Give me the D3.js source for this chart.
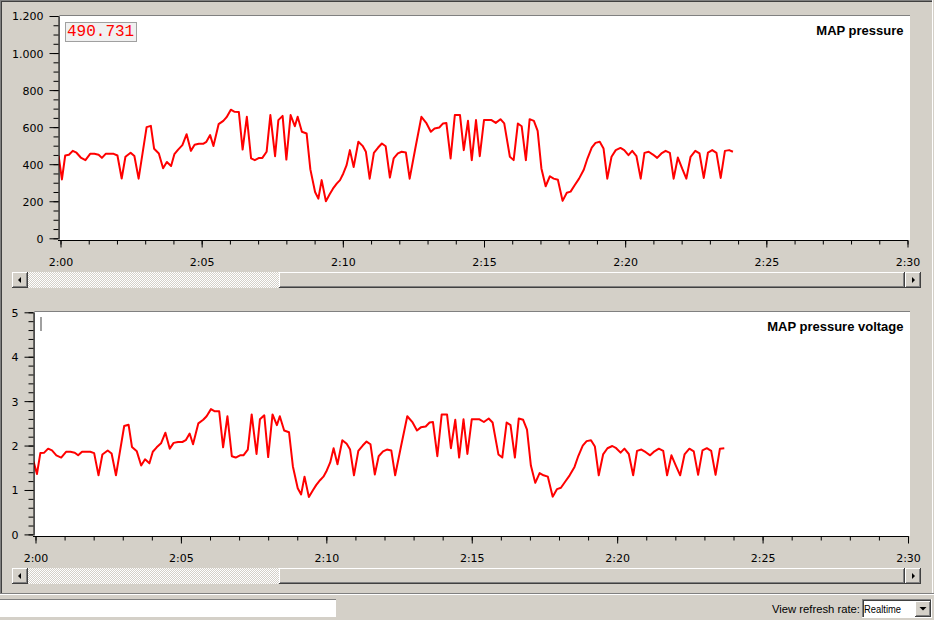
<!DOCTYPE html>
<html><head><meta charset="utf-8">
<script src="https://cdn.jsdelivr.net/npm/d3@7"></script>
<style>html,body{margin:0;padding:0;background:#d4d0c8;overflow:hidden}svg{display:block}</style>
</head><body>
<svg id="c" width="934" height="620"></svg>
<script>
// ---- data (seconds after 2:00) ----
const sampleSec = [-4,3,10,18,26,34,43,53,63,72, 81,88,96,104,113,121,130,138,149,157,
 166,183,192,199,209,218,226,235,242,250, 259,268,277,285,294,303,310,318,325,336,
 346,353,362,370,379,387,396,405,413,422, 429,438,446,456,463,472,480,489,498,504,
 513,523,531,541,548,555,564,572,579,587, 594,601,608,615,623,633,642,649,657,666,
 675,683,691,700,708,717,725,734,742,754, 767,778,787,795,805,813,820,829,838,849,
 857,866,874,883,891,900,909,916,925,935, 943,955,963,972,980,989,997,1006,1014,1022,
 1031,1040,1048,1057,1067,1076,1084,1093,1102,1112, 1120,1129,1137,1146,1154,1162,1171,1180,1190,1198,
 1207,1215,1224,1233,1241,1250,1259,1268,1277,1286, 1295,1303,1312,1321,1330,1339,1349,1358,1367,1376,
 1385,1394,1403,1412,1421,1429];
const pressure = [445,318,447,451,472,462,436,422,456,456, 451,434,456,456,456,447,323,440,462,444,
 322,600,607,483,458,378,412,390,454,479, 503,562,472,505,510,510,521,557,498,616,
 634,654,694,683,682,479,656,431,422,434, 434,467,665,443,638,661,425,665,605,656,
 575,566,372,250,214,314,200,238,268,295, 314,350,395,476,385,521,499,467,322,461,
 490,512,497,328,431,458,467,463,322,485, 656,620,575,593,598,620,623,431,665,665,
 476,634,422,638,443,638,638,638,623,643, 620,440,422,620,605,422,643,634,580,377,
 281,335,322,316,202,246,252,288,322,370, 432,490,515,521,485,322,440,476,488,476,
 449,472,443,322,461,467,452,434,458,472, 461,322,436,377,322,440,472,458,326,463,
 476,461,326,472,476,467];
const voltage = [1.64,1.36,1.83,1.84,1.93,1.89,1.78,1.73,1.86,1.86, 1.84,1.78,1.86,1.86,1.86,1.83,1.33,1.80,1.89,1.82,
 1.33,2.44,2.47,1.97,1.87,1.55,1.69,1.60,1.86,1.96, 2.05,2.29,1.93,2.06,2.08,2.08,2.12,2.27,2.03,2.50,
 2.58,2.66,2.82,2.77,2.77,1.96,2.66,1.76,1.73,1.78, 1.78,1.91,2.70,1.81,2.59,2.68,1.74,2.70,2.46,2.66,
 2.34,2.30,1.53,1.04,0.90,1.30,0.84,0.99,1.11,1.22, 1.30,1.44,1.62,1.94,1.58,2.12,2.04,1.91,1.33,1.88,
 2.00,2.09,2.03,1.35,1.76,1.87,1.91,1.89,1.33,1.98, 2.66,2.52,2.34,2.41,2.43,2.52,2.53,1.76,2.70,2.70,
 1.94,2.58,1.73,2.59,1.81,2.59,2.59,2.59,2.53,2.61, 2.52,1.80,1.73,2.52,2.46,1.73,2.61,2.58,2.36,1.55,
 1.16,1.38,1.33,1.30,0.85,1.02,1.05,1.19,1.33,1.52, 1.77,2.00,2.10,2.12,1.98,1.33,1.80,1.94,1.99,1.94,
 1.84,1.93,1.81,1.33,1.88,1.91,1.85,1.78,1.87,1.93, 1.88,1.33,1.78,1.55,1.33,1.80,1.93,1.87,1.34,1.89,
 1.94,1.88,1.34,1.93,1.94];
const pressureTicks = [0,200,400,600,800,1000,1200];
const voltageTicks = [0,1,2,3,4,5];
const titles = ["MAP pressure", "MAP pressure voltage"];
const currentValue = "490.731";
const refreshLabel = "View refresh rate:";
const refreshValue = "Realtime";

// ---- drawing ----
const svg = d3.select("#c");
const base = Date.UTC(2000,0,1,2,0,0);
const toDate = s => new Date(base + s*1000);
const de = d3.formatLocale({decimal:",", thousands:".", grouping:[3], currency:["","€"]});
const fmtThousands = de.format(",d");
const timeFmt = d3.utcFormat("%-H:%M");
const AX_FONT = "DejaVu Sans, Verdana, sans-serif";

const defs = svg.append("defs");
const pat = defs.append("pattern").attr("id","hatch").attr("width",2).attr("height",2).attr("patternUnits","userSpaceOnUse");
pat.append("rect").attr("width",2).attr("height",2).attr("fill","#d4d0c8");
pat.append("rect").attr("width",1).attr("height",1).attr("fill","#ffffff");
pat.append("rect").attr("x",1).attr("y",1).attr("width",1).attr("height",1).attr("fill","#ffffff");

function hline(g,x1,x2,y,c){g.append("line").attr("x1",x1).attr("x2",x2).attr("y1",y).attr("y2",y).attr("stroke",c).attr("stroke-width",1);}
function vline(g,x,y1,y2,c){g.append("line").attr("x1",x).attr("x2",x).attr("y1",y1).attr("y2",y2).attr("stroke",c).attr("stroke-width",1);}

// window frame
hline(svg,0,933,0.5,"#808080"); hline(svg,1,932,1.5,"#404040");
vline(svg,0.5,0,594,"#808080"); vline(svg,1.5,1,593,"#404040");
vline(svg,932.5,0,594,"#ffffff");
hline(svg,0,934,593.5,"#808080"); hline(svg,0,934,594.5,"#ffffff");

function raised(g,x,y,w,h){
  g.append("rect").attr("x",x).attr("y",y).attr("width",w).attr("height",h).attr("fill","#d4d0c8");
  hline(g,x,x+w-1,y+0.5,"#ffffff"); vline(g,x+0.5,y,y+h-1,"#ffffff");
  hline(g,x,x+w,y+h-0.5,"#404040"); vline(g,x+w-0.5,y,y+h,"#404040");
  hline(g,x+1,x+w-1,y+h-1.5,"#808080"); vline(g,x+w-1.5,y+1,y+h-1,"#808080");
}
function scrollbar(y0){
  const g = svg.append("g");
  g.append("rect").attr("x",12).attr("y",y0).attr("width",909).attr("height",16).attr("fill","url(#hatch)");
  raised(g,12,y0,16,16);
  g.append("path").attr("d",`M18,${y0+8}L21,${y0+5}L21,${y0+11}Z`).attr("fill","#000");
  raised(g,279,y0,626,16);
  raised(g,905,y0,16,16);
  g.append("path").attr("d",`M915,${y0+8}L912,${y0+5}L912,${y0+11}Z`).attr("fill","#000");
}

function panel(cfg){
  const g = svg.append("g");
  const x = d3.scaleUtc().domain([toDate(0), toDate(1800)]).range([cfg.x0, cfg.x1]);
  const y = d3.scaleLinear().domain([0, cfg.yMax]).range([cfg.yZero, cfg.yTop]);
  // plot area
  g.append("rect").attr("x",cfg.left).attr("y",cfg.top).attr("width",910-cfg.left).attr("height",cfg.axisY-cfg.top).attr("fill","#ffffff");
  hline(g,cfg.left,910,cfg.top+0.5,"#808080");
  vline(g,cfg.left+0.5,cfg.top,cfg.axisY,"#a0a0a0");
  // clip
  const cid = "clip"+cfg.id;
  defs.append("clipPath").attr("id",cid).append("rect").attr("x",cfg.left).attr("y",cfg.top+1).attr("width",910-cfg.left).attr("height",cfg.axisY-cfg.top-1);
  // title
  g.append("text").attr("x",903.5).attr("y",cfg.top+20).attr("text-anchor","end")
    .attr("font-family","Liberation Sans, Arial, sans-serif").attr("font-weight","bold").attr("font-size","13px").attr("fill","#000").text(cfg.title);
  // line
  const pts = cfg.values.map((v,i)=>[toDate(sampleSec[i]), v]);
  g.append("path").datum(pts).attr("clip-path",`url(#${cid})`)
    .attr("d", d3.line().x(d=>x(d[0])).y(d=>y(d[1])))
    .attr("fill","none").attr("stroke","#ff0000").attr("stroke-width",2).attr("stroke-linejoin","round");
  // y axis minor
  const yMinor = d3.range(0, cfg.yMax+1e-9, cfg.minorStep);
  g.append("g").attr("transform",`translate(${cfg.yAxisX},0)`)
    .call(d3.axisLeft(y).tickValues(yMinor).tickSize(5).tickFormat("").tickSizeOuter(0))
    .call(a=>a.select(".domain").remove());
  // y axis major
  const ya = g.append("g").attr("transform",`translate(${cfg.yAxisX},0)`)
    .call(d3.axisLeft(y).tickValues(cfg.ticks).tickSize(9).tickPadding(6).tickFormat(cfg.fmt).tickSizeOuter(0));
  ya.selectAll("text").attr("font-family",AX_FONT).attr("font-size","11px").attr("fill","#000").attr("dy","0.36em");
  ya.selectAll("line").attr("stroke","#000");
  ya.select(".domain").attr("stroke","#000");
  // x axis
  const xMinor = d3.utcMinute.every(1).range(toDate(0), toDate(1801));
  g.append("g").attr("transform",`translate(0,${cfg.axisY+0.5})`)
    .call(d3.axisBottom(x).tickValues(xMinor).tickSize(4).tickFormat("").tickSizeOuter(0))
    .call(a=>a.select(".domain").remove());
  const xMajor = d3.utcMinute.every(5).range(toDate(0), toDate(1801));
  const xa = g.append("g").attr("transform",`translate(0,${cfg.axisY+0.5})`)
    .call(d3.axisBottom(x).tickValues(xMajor).tickSize(7).tickPadding(11).tickFormat(timeFmt).tickSizeOuter(0));
  xa.select(".domain").remove();
  xa.selectAll("text").attr("font-family",AX_FONT).attr("font-size","11px").attr("fill","#000");
  hline(g,cfg.yAxisX-0.5,cfg.x1+0.5,cfg.axisY+0.5,"#000");
  return g;
}

const p1 = panel({id:1, left:59, top:15, axisY:240, yAxisX:58.5, x0:60.5, x1:907.5,
  yZero:238.3, yTop:16, yMax:1200, ticks:pressureTicks, minorStep:50, fmt:fmtThousands,
  values:pressure, title:titles[0]});
// value box
p1.append("rect").attr("x",65.5).attr("y",22.5).attr("width",71).attr("height",19).attr("fill","#f0f0f0").attr("stroke","#a0a0a0");
p1.append("text").attr("x",67).attr("y",36).attr("font-family","Liberation Mono, Courier New, monospace")
  .attr("font-size","16px").attr("fill","#ff0000").text(currentValue);
scrollbar(272);

const p2 = panel({id:2, left:34, top:311, axisY:536, yAxisX:33.5, x0:35.5, x1:908,
  yZero:534.4, yTop:312.3, yMax:5, ticks:voltageTicks, minorStep:0.2, fmt:d3.format("d"),
  values:voltage, title:titles[1]});
p2.append("rect").attr("x",40).attr("y",317).attr("width",2).attr("height",14).attr("fill","#a0a0a0");
scrollbar(568);

// status bar
const sb = svg.append("g");
sb.append("rect").attr("x",0).attr("y",599).attr("width",337).attr("height",19).attr("fill","#ffffff");
hline(sb,0,337,599.5,"#808080"); vline(sb,336.5,599,618,"#d4d0c8"); hline(sb,0,337,617.5,"#d4d0c8");
sb.append("text").attr("x",772).attr("y",613).attr("font-family","Liberation Sans, Arial, sans-serif")
  .attr("font-size","11.5px").attr("fill","#000").attr("textLength",88).attr("lengthAdjust","spacingAndGlyphs").text(refreshLabel);
sb.append("rect").attr("x",862).attr("y",599).attr("width",70).attr("height",19).attr("fill","#ffffff");
hline(sb,862,932,599.5,"#808080"); vline(sb,862.5,599,618,"#808080");
hline(sb,863,932,600.5,"#404040"); vline(sb,863.5,600,617,"#404040");
hline(sb,862,932,617.5,"#ffffff"); vline(sb,931.5,599,618,"#ffffff");
sb.append("text").attr("x",864).attr("y",613).attr("font-family","Liberation Sans, Arial, sans-serif")
  .attr("font-size","11.5px").attr("fill","#000").attr("textLength",37).attr("lengthAdjust","spacingAndGlyphs").text(refreshValue);
raised(sb,915,601,16,16);
sb.append("path").attr("d","M919.5,607L926.5,607L923,610.5Z").attr("fill","#000");
</script>
</body></html>
